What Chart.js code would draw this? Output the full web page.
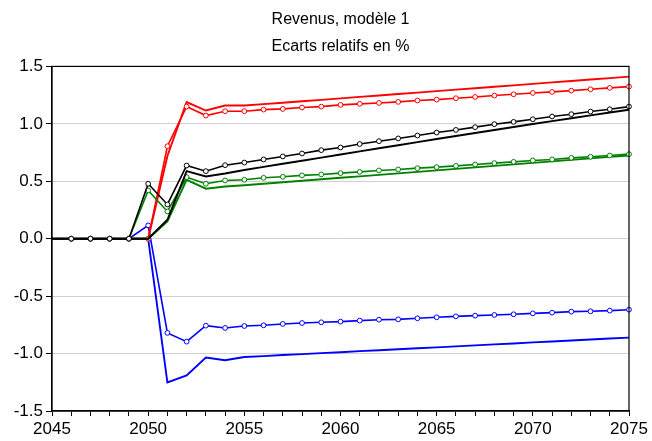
<!DOCTYPE html>
<html><head><meta charset="utf-8">
<script src="https://cdn.jsdelivr.net/npm/chart.js@4"></script>
<style>html,body{margin:0;padding:0;background:#fff}#wrap{width:652px;height:441px}</style>
</head><body><div id="wrap"><canvas id="c" width="652" height="441"></canvas></div>
<script>
const years = [2045,2046,2047,2048,2049,2050,2051,2052,2053,2054,2055,2056,2057,2058,2059,2060,2061,2062,2063,2064,2065,2066,2067,2068,2069,2070,2071,2072,2073,2074,2075];
const titleLines = ["Revenus, modèle 1", "Ecarts relatifs en %"];
const yTicks = [-1.5,-1.0,-0.5,0.0,0.5,1.0,1.5];

const redMarked = [0,0,0,0,0,0,0.805,1.150,1.072,1.110,1.110,1.124,1.130,1.142,1.150,1.165,1.174,1.182,1.191,1.203,1.211,1.223,1.234,1.246,1.257,1.269,1.278,1.289,1.301,1.313,1.324];
const redPlain  = [0,0,0,0,0,0,0.720,1.190,1.116,1.159,1.159,1.172,1.184,1.197,1.209,1.222,1.235,1.247,1.260,1.272,1.285,1.298,1.310,1.323,1.335,1.348,1.361,1.373,1.386,1.398,1.411];
const blackMarked = [0,0,0,0,0,0.478,0.298,0.637,0.588,0.640,0.663,0.690,0.716,0.742,0.771,0.794,0.824,0.849,0.873,0.898,0.924,0.947,0.971,0.997,1.017,1.040,1.064,1.084,1.107,1.127,1.150];
const blackPlain  = [0,0,0,0,0,0,0.165,0.588,0.542,0.568,0.598,0.625,0.652,0.679,0.706,0.733,0.760,0.787,0.814,0.841,0.868,0.894,0.920,0.946,0.972,0.998,1.024,1.049,1.074,1.099,1.123];
const greenMarked = [0,0,0,0,0,0.420,0.237,0.536,0.478,0.507,0.513,0.530,0.539,0.551,0.559,0.571,0.582,0.594,0.603,0.614,0.623,0.634,0.646,0.658,0.669,0.681,0.690,0.704,0.713,0.724,0.736];
const greenPlain  = [0,0,0,0,0,0,0.150,0.513,0.435,0.455,0.465,0.478,0.491,0.504,0.517,0.530,0.543,0.556,0.569,0.582,0.595,0.608,0.621,0.634,0.647,0.660,0.673,0.686,0.699,0.712,0.724];
const blueMarked = [0,0,0,0,0,0.116,-0.820,-0.896,-0.757,-0.777,-0.760,-0.754,-0.742,-0.734,-0.728,-0.722,-0.713,-0.705,-0.702,-0.693,-0.684,-0.676,-0.670,-0.664,-0.658,-0.650,-0.644,-0.635,-0.632,-0.626,-0.618];
const bluePlain  = [0,0,0,0,0,0,-1.252,-1.190,-1.035,-1.058,-1.030,-1.022,-1.013,-1.005,-0.996,-0.988,-0.979,-0.971,-0.962,-0.954,-0.946,-0.937,-0.929,-0.920,-0.912,-0.903,-0.895,-0.886,-0.878,-0.869,-0.861];

const FONT = "'Liberation Sans', Arial, sans-serif";
function marked(data, color) {
  return { data, borderColor: color, backgroundColor: '#ffffff', borderWidth: 1.6,
    pointRadius: c => c.dataIndex === 0 ? 0 : 2.4, pointBorderWidth: 1,
    pointBackgroundColor: '#ffffff', pointBorderColor: color, tension: 0 };
}
function plain(data, color) {
  return { data, borderColor: color, backgroundColor: color, borderWidth: 1.9, pointRadius: 0, tension: 0 };
}

const framePlugin = {
  id: 'frame',
  afterLayout(chart) {
    const t = chart.titleBlock, a = chart.chartArea;
    if (t && a) { t.left = a.left; t.right = a.right; t.width = a.right - a.left; }
  },
  afterDraw(chart) {
    const a = chart.chartArea, ctx = chart.ctx;
    ctx.save(); ctx.strokeStyle = '#000'; ctx.lineWidth = 1.2;
    ctx.strokeRect(a.left, a.top, a.right - a.left, a.bottom - a.top);
    ctx.restore();
  }
};

new Chart(document.getElementById('c'), {
  type: 'line',
  data: {
    labels: years,
    datasets: [
      marked(blackMarked, '#000000'),
      plain(blackPlain, '#000000'),
      marked(greenMarked, '#008000'),
      plain(greenPlain, '#008000'),
      marked(redMarked, '#ff0000'),
      plain(redPlain, '#ff0000'),
      marked(blueMarked, '#0000ff'),
      plain(bluePlain, '#0000ff')
    ]
  },
  options: {
    responsive: false, animation: false, devicePixelRatio: 1,
    layout: { padding: { left: 0, right: 23, top: 0, bottom: 0 } },
    plugins: {
      legend: { display: false }, tooltip: { enabled: false },
      title: { display: true, text: titleLines, color: '#000',
        font: { family: FONT, size: 16, weight: 'normal', lineHeight: 1.7 },
        padding: { top: 6, bottom: 6 } }
    },
    scales: {
      x: {
        type: 'category', offset: false,
        grid: { display: true, drawOnChartArea: false, drawTicks: true, tickLength: 5, tickColor: '#000', tickWidth: 1 },
        border: { display: true, color: '#000', width: 1.2 },
        ticks: { autoSkip: false, maxRotation: 0, minRotation: 0, padding: 3, color: '#000',
          font: { family: FONT, size: 17 },
          callback: (v, i) => (years[i] % 5 === 0 ? String(years[i]) : '') },
        afterFit: s => { s.height = 30; }
      },
      y: {
        min: yTicks[0], max: yTicks[yTicks.length - 1],
        afterBuildTicks: s => { s.ticks = yTicks.map(v => ({ value: v })); },
        grid: { color: '#d0d0d0', lineWidth: 1, drawTicks: true, tickLength: 6, tickColor: '#000' },
        border: { display: true, color: '#000', width: 1.2 },
        ticks: { padding: 3, color: '#000', font: { family: FONT, size: 17 },
          callback: v => Number(v).toFixed(1) },
        afterFit: s => { s.width = 52; }
      }
    }
  },
  plugins: [framePlugin]
});
</script>
</body></html>
